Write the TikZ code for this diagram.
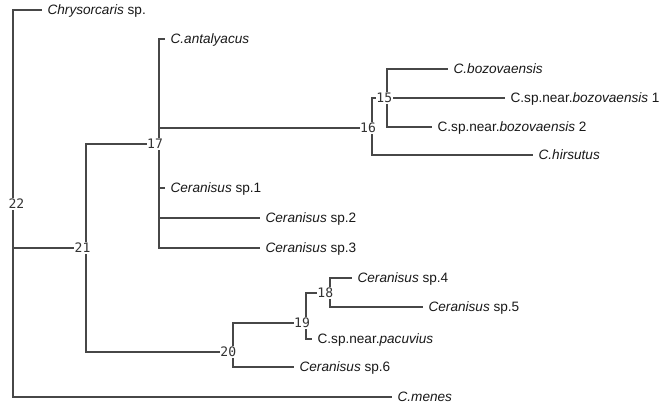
\documentclass[tikz,border=0pt]{standalone}
\usepackage{fontspec}
\setmainfont{Liberation Sans}
\newfontfamily\numfont{DejaVu Sans Mono}
\begin{document}
\begin{tikzpicture}[x=0.75pt,y=-0.75pt,
  branch/.style={coordinate},
  tip/.style={anchor=west,inner xsep=4pt,inner ysep=0pt,text height=7.2pt,text depth=0pt,font=\fontsize{10.2pt}{12pt}\selectfont,text=black!90},
  num/.style={fill=white,inner xsep=0.4pt,inner ysep=0.8pt,font=\numfont\fontsize{9.8pt}{11pt}\selectfont,text=black!80},
  edge/.style={draw=black!72,line width=1.15pt}]
\path[use as bounding box,fill=white] (0,0) rectangle (665,409);
% branch points
\node[branch] (b22) at (13,204) {};
\node[branch] (b21) at (86,248) {};
\node[branch] (b17) at (159,144) {};
\node[branch] (b16) at (372,128) {};
\node[branch] (b15) at (387,98) {};
\node[branch] (b20) at (233,352) {};
\node[branch] (b19) at (306,323) {};
\node[branch] (b18) at (330,293) {};
% tips
\node[tip] (chr) at (42,10) {\textit{Chrysorcaris} sp.};
\node[tip] (ant) at (165,39) {\textit{C.antalyacus}};
\node[tip] (boz) at (448,69) {\textit{C.bozovaensis}};
\node[tip] (nb1) at (505,98) {C.sp.near.\textit{bozovaensis} 1};
\node[tip] (nb2) at (432,127) {C.sp.near.\textit{bozovaensis} 2};
\node[tip] (hir) at (533,155) {\textit{C.hirsutus}};
\node[tip] (ce1) at (165,188) {\textit{Ceranisus} sp.1};
\node[tip] (ce2) at (260,218) {\textit{Ceranisus} sp.2};
\node[tip] (ce3) at (260,248) {\textit{Ceranisus} sp.3};
\node[tip] (ce4) at (352,278) {\textit{Ceranisus} sp.4};
\node[tip] (ce5) at (423,307) {\textit{Ceranisus} sp.5};
\node[tip] (pac) at (312,339) {C.sp.near.\textit{pacuvius}};
\node[tip] (ce6) at (294,367) {\textit{Ceranisus} sp.6};
\node[tip] (men) at (392,397) {\textit{C.menes}};
% connectors
\path[edge] (b22) |- (chr.west);
\path[edge] (b22) |- (b21);
\path[edge] (b22) |- (men.west);
\path[edge] (b21) |- (b17);
\path[edge] (b21) |- (b20);
\path[edge] (b17) |- (ant.west);
\path[edge] (b17) |- (b16);
\path[edge] (b17) |- (ce1.west);
\path[edge] (b17) |- (ce2.west);
\path[edge] (b17) |- (ce3.west);
\path[edge] (b16) |- (b15);
\path[edge] (b16) |- (hir.west);
\path[edge] (b15) |- (boz.west);
\path[edge] (b15) -- (nb1.west);
\path[edge] (b15) |- (nb2.west);
\path[edge] (b20) |- (b19);
\path[edge] (b20) |- (ce6.west);
\path[edge] (b19) |- (b18);
\path[edge] (b19) |- (pac.west);
\path[edge] (b18) |- (ce4.west);
\path[edge] (b18) |- (ce5.west);
% node numbers
\node[num] (l22) at ([xshift=2.6pt]b22) {22};
\node[num] (l21) at ([xshift=-2.6pt]b21) {21};
\node[num] (l17) at ([xshift=-3pt]b17) {17};
\node[num] (l16) at ([xshift=-3pt]b16) {16};
\node[num] (l15) at ([xshift=-2pt]b15) {15};
\node[num] (l20) at ([xshift=-3.5pt]b20) {20};
\node[num] (l19) at ([xshift=-3pt]b19) {19};
\node[num] (l18) at ([xshift=-3.5pt]b18) {18};
\end{tikzpicture}
\end{document}
